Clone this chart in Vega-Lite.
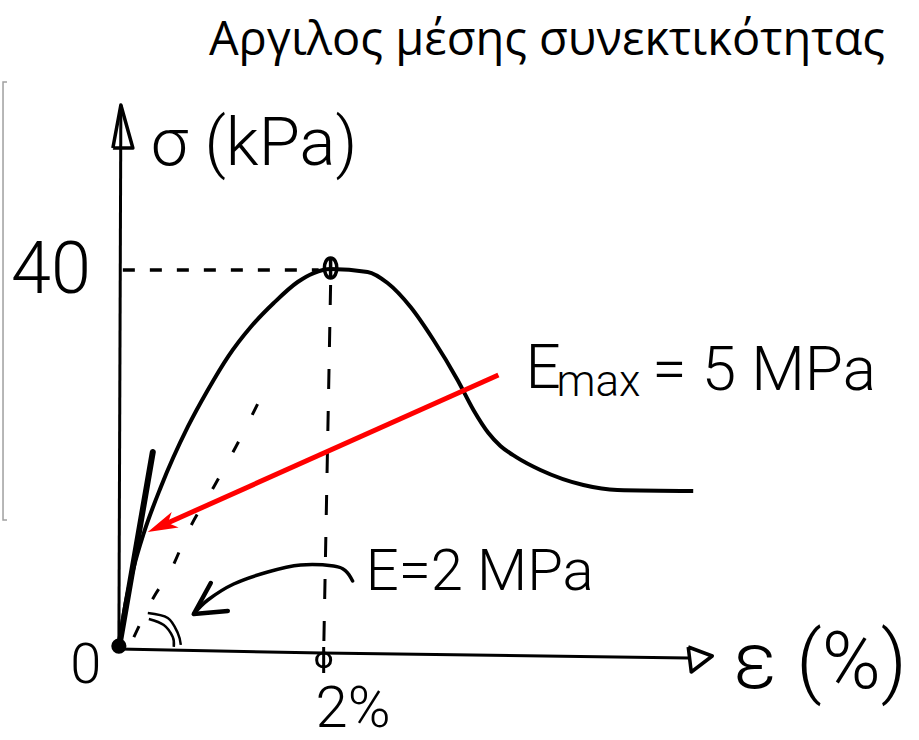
{
  "$schema": "https://vega.github.io/schema/vega-lite/v6.json",
  "width": 919,
  "height": 740,
  "padding": 0,
  "autosize": {"type": "fit", "contains": "padding"},
  "background": "white",
  "config": {"view": {"stroke": null}},
  "datasets": {
    "curve": [
      {"x": 0, "y": 0},
      {"x": 0.049, "y": 3.7},
      {"x": 0.147, "y": 8.57},
      {"x": 0.245, "y": 12.17},
      {"x": 0.412, "y": 17.04},
      {"x": 0.676, "y": 23.39},
      {"x": 0.873, "y": 27.3},
      {"x": 1.069, "y": 30.79},
      {"x": 1.294, "y": 33.97},
      {"x": 1.52, "y": 36.51},
      {"x": 1.755, "y": 38.73},
      {"x": 1.912, "y": 39.68},
      {"x": 2.078, "y": 40.11},
      {"x": 2.441, "y": 39.79},
      {"x": 2.637, "y": 38.62},
      {"x": 2.863, "y": 36.08},
      {"x": 3.088, "y": 32.59},
      {"x": 3.324, "y": 28.36},
      {"x": 3.48, "y": 25.19},
      {"x": 3.627, "y": 22.75},
      {"x": 3.745, "y": 21.38},
      {"x": 3.9, "y": 20.2},
      {"x": 4.137, "y": 18.84},
      {"x": 4.559, "y": 17.25},
      {"x": 4.892, "y": 16.72},
      {"x": 5.637, "y": 16.61}
    ],
    "paths": [
      {"path": "frame", "i": 0, "x": -1.098, "y": 59.89},
      {"path": "frame", "i": 1, "x": -1.137, "y": 59.89},
      {"path": "frame", "i": 2, "x": -1.137, "y": 13.54},
      {"path": "frame", "i": 3, "x": -1.098, "y": 13.54},

      {"path": "yaxis", "i": 0, "x": 0, "y": 0},
      {"path": "yaxis", "i": 1, "x": 0.0196, "y": 57.46},
      {"path": "yarrow", "i": 0, "x": -0.0588, "y": 52.91},
      {"path": "yarrow", "i": 1, "x": 0.0196, "y": 57.46},
      {"path": "yarrow", "i": 2, "x": 0.1373, "y": 52.91},
      {"path": "yarrow", "i": 3, "x": -0.0588, "y": 52.91},

      {"path": "xaxis", "i": 0, "x": 0, "y": -0.106},
      {"path": "xaxis", "i": 1, "x": 2, "y": -0.529},
      {"path": "xaxis", "i": 2, "x": 5.588, "y": -1.058},
      {"path": "xarrow", "i": 0, "x": 5.588, "y": 0.106},
      {"path": "xarrow", "i": 1, "x": 5.824, "y": -0.847},
      {"path": "xarrow", "i": 2, "x": 5.618, "y": -2.54},
      {"path": "xarrow", "i": 3, "x": 5.588, "y": 0.106},

      {"path": "tangent", "i": 0, "x": 0, "y": 0},
      {"path": "tangent", "i": 1, "x": 0.333, "y": 20.74},

      {"path": "hdash", "i": 0, "x": 0.039, "y": 40.0},
      {"path": "hdash", "i": 1, "x": 1.961, "y": 40.0},
      {"path": "vdash", "i": 0, "x": 2.078, "y": 38.41},
      {"path": "vdash", "i": 1, "x": 2.01, "y": -0.42},

      {"path": "secant", "i": 0, "x": 0.147, "y": 1.16},
      {"path": "secant", "i": 1, "x": 0.343, "y": 5.4},
      {"path": "secant", "i": 2, "x": 0.51, "y": 8.25},
      {"path": "secant", "i": 3, "x": 0.686, "y": 12.49},
      {"path": "secant", "i": 4, "x": 0.931, "y": 17.04},
      {"path": "secant", "i": 5, "x": 1.147, "y": 21.27},
      {"path": "secant", "i": 6, "x": 1.392, "y": 26.46},

      {"path": "arcOuter", "i": 0, "x": 0.284, "y": 3.7},
      {"path": "arcOuter", "i": 1, "x": 0.48, "y": 3.17},
      {"path": "arcOuter", "i": 2, "x": 0.578, "y": 1.59},
      {"path": "arcOuter", "i": 3, "x": 0.608, "y": 0.32},
      {"path": "arcInner", "i": 0, "x": 0.294, "y": 3.07},
      {"path": "arcInner", "i": 1, "x": 0.441, "y": 2.43},
      {"path": "arcInner", "i": 2, "x": 0.529, "y": 1.16},
      {"path": "arcInner", "i": 3, "x": 0.539, "y": 0.11},

      {"path": "eArrow", "i": 0, "x": 2.294, "y": 7.09},
      {"path": "eArrow", "i": 1, "x": 2.225, "y": 8.17},
      {"path": "eArrow", "i": 2, "x": 2.108, "y": 8.68},
      {"path": "eArrow", "i": 3, "x": 1.784, "y": 8.78},
      {"path": "eArrow", "i": 4, "x": 1.461, "y": 8.04},
      {"path": "eArrow", "i": 5, "x": 1.127, "y": 6.77},
      {"path": "eArrow", "i": 6, "x": 0.873, "y": 5.08},
      {"path": "eArrow", "i": 7, "x": 0.735, "y": 3.6},
      {"path": "eHead", "i": 0, "x": 0.902, "y": 6.88},
      {"path": "eHead", "i": 1, "x": 0.735, "y": 3.6},
      {"path": "eHead", "i": 2, "x": 1.069, "y": 3.92},

      {"path": "red", "i": 0, "x": 3.725, "y": 28.89},
      {"path": "red", "i": 1, "x": 0.412, "y": 12.91}
    ],
    "markers": [
      {"key": "origin", "x": 0, "y": 0.2},
      {"key": "peak", "x": 2.078, "y": 40.21},
      {"key": "xtick", "x": 2.01, "y": -1.27},
      {"key": "redTip", "x": 0.284, "y": 12.28}
    ],
    "labels": [
      {"key": "title", "text": "Αργιλος μέσης συνεκτικότητας", "x": 4.201, "y": 62.7},
      {"key": "sigma", "text": "σ (kPa)", "x": 0.314, "y": 51.11},
      {"key": "forty", "text": "40", "x": -0.275, "y": 37.57},
      {"key": "zero", "text": "0", "x": -0.324, "y": -3.7},
      {"key": "two", "text": "2%", "x": 1.931, "y": -8.36},
      {"key": "eps", "text": "ε (%)", "x": 6.029, "y": -4.23},
      {"key": "emaxE", "text": "E", "x": 3.99, "y": 27.51},
      {"key": "emaxSub", "text": "max", "x": 4.294, "y": 26.67},
      {"key": "emaxVal", "text": "= 5 MPa", "x": 5.235, "y": 27.3},
      {"key": "e2", "text": "E=2 MPa", "x": 2.422, "y": 6.14}
    ]
  },
  "encoding": {
    "x": {"field": "x", "type": "quantitative", "axis": null,
          "scale": {"domain": [-1.15686, 7.85294], "nice": false, "zero": false}},
    "y": {"field": "y", "type": "quantitative", "axis": null,
          "scale": {"domain": [-9.73545, 68.57143], "nice": false, "zero": false}}
  },
  "layer": [
    {
      "data": {"name": "paths"},
      "transform": [{"filter": "datum.path === 'frame'"}],
      "mark": {"type": "line", "color": "#a0a0a0", "strokeWidth": 1.5},
      "encoding": {"order": {"field": "i", "type": "quantitative"}}
    },
    {
      "data": {"name": "paths"},
      "transform": [{"filter": "datum.path === 'yaxis' || datum.path === 'xaxis'"}],
      "mark": {"type": "line", "color": "black", "strokeWidth": 3},
      "encoding": {"detail": {"field": "path"}, "order": {"field": "i", "type": "quantitative"}}
    },
    {
      "data": {"name": "paths"},
      "transform": [{"filter": "datum.path === 'yarrow' || datum.path === 'xarrow'"}],
      "mark": {"type": "line", "color": "black", "strokeWidth": 3.5, "strokeJoin": "round"},
      "encoding": {"detail": {"field": "path"}, "order": {"field": "i", "type": "quantitative"}}
    },
    {
      "data": {"name": "paths"},
      "transform": [{"filter": "datum.path === 'hdash'"}],
      "mark": {"type": "line", "color": "black", "strokeWidth": 3.5, "strokeDash": [12, 15]},
      "encoding": {"order": {"field": "i", "type": "quantitative"}}
    },
    {
      "data": {"name": "paths"},
      "transform": [{"filter": "datum.path === 'vdash'"}],
      "mark": {"type": "line", "color": "black", "strokeWidth": 3, "strokeDash": [20, 22]},
      "encoding": {"order": {"field": "i", "type": "quantitative"}}
    },
    {
      "data": {"name": "paths"},
      "transform": [{"filter": "datum.path === 'secant'"}],
      "mark": {"type": "line", "color": "black", "strokeWidth": 3, "strokeDash": [12, 30], "interpolate": "monotone"},
      "encoding": {"order": {"field": "i", "type": "quantitative"}}
    },
    {
      "data": {"name": "paths"},
      "transform": [{"filter": "datum.path === 'arcOuter' || datum.path === 'arcInner'"}],
      "mark": {"type": "line", "color": "black", "strokeWidth": 2.5, "interpolate": "cardinal"},
      "encoding": {"detail": {"field": "path"}, "order": {"field": "i", "type": "quantitative"}}
    },
    {
      "data": {"name": "curve"},
      "mark": {"type": "line", "color": "black", "strokeWidth": 4, "interpolate": "monotone"}
    },
    {
      "data": {"name": "paths"},
      "transform": [{"filter": "datum.path === 'tangent'"}],
      "mark": {"type": "line", "color": "black", "strokeWidth": 6, "strokeCap": "round"},
      "encoding": {"order": {"field": "i", "type": "quantitative"}}
    },
    {
      "data": {"name": "paths"},
      "transform": [{"filter": "datum.path === 'eArrow'"}],
      "mark": {"type": "line", "color": "black", "strokeWidth": 3.5, "interpolate": "cardinal", "strokeCap": "round"},
      "encoding": {"order": {"field": "i", "type": "quantitative"}}
    },
    {
      "data": {"name": "paths"},
      "transform": [{"filter": "datum.path === 'eHead'"}],
      "mark": {"type": "line", "color": "black", "strokeWidth": 4.5, "strokeCap": "round", "strokeJoin": "round"},
      "encoding": {"order": {"field": "i", "type": "quantitative"}}
    },
    {
      "data": {"name": "paths"},
      "transform": [{"filter": "datum.path === 'red'"}],
      "mark": {"type": "line", "color": "#ff0000", "strokeWidth": 5},
      "encoding": {"order": {"field": "i", "type": "quantitative"}}
    },
    {
      "data": {"name": "markers"},
      "transform": [{"filter": "datum.key === 'redTip'"}],
      "mark": {"type": "point", "filled": true, "color": "#ff0000", "opacity": 1,
               "shape": "M0,0 L-3,-0.85 L-2.2,0 L-3,0.85 Z", "size": 400, "angle": 155.9}
    },
    {
      "data": {"name": "markers"},
      "transform": [{"filter": "datum.key === 'origin'"}],
      "mark": {"type": "point", "filled": true, "color": "black", "opacity": 1, "shape": "circle", "size": 230}
    },
    {
      "data": {"name": "markers"},
      "transform": [{"filter": "datum.key === 'peak'"}],
      "mark": {"type": "point", "filled": false, "color": "black", "opacity": 1, "strokeWidth": 3.5,
               "shape": "M0,-1 L0,1 M0,-0.9 C0.75,-0.9 0.75,0.9 0,0.9 C-0.75,0.9 -0.75,-0.9 0,-0.9 Z", "size": 484}
    },
    {
      "data": {"name": "markers"},
      "transform": [{"filter": "datum.key === 'xtick'"}],
      "mark": {"type": "point", "filled": false, "color": "black", "opacity": 1, "strokeWidth": 3,
               "shape": "M0,-1.3 L0,1.3 M-0.7,0 C-0.7,-0.93 0.7,-0.93 0.7,0 C0.7,0.93 -0.7,0.93 -0.7,0 Z", "size": 400}
    },
    {
      "data": {"name": "labels"},
      "transform": [{"filter": "datum.key === 'title'"}],
      "mark": {"type": "text", "font": "Open Sans", "fontSize": 47, "align": "center", "baseline": "alphabetic", "color": "black"},
      "encoding": {"text": {"field": "text"}}
    },
    {
      "data": {"name": "labels"},
      "transform": [{"filter": "datum.key === 'sigma'"}],
      "mark": {"type": "text", "font": "Roboto", "fontWeight": 300, "fontSize": 67, "align": "left", "baseline": "alphabetic", "color": "black"},
      "encoding": {"text": {"field": "text"}}
    },
    {
      "data": {"name": "labels"},
      "transform": [{"filter": "datum.key === 'forty'"}],
      "mark": {"type": "text", "font": "Roboto", "fontWeight": 300, "fontSize": 72, "align": "right", "baseline": "alphabetic", "color": "black"},
      "encoding": {"text": {"field": "text"}}
    },
    {
      "data": {"name": "labels"},
      "transform": [{"filter": "datum.key === 'zero'"}],
      "mark": {"type": "text", "font": "Roboto", "fontWeight": 300, "fontSize": 56, "align": "center", "baseline": "alphabetic", "color": "black"},
      "encoding": {"text": {"field": "text"}}
    },
    {
      "data": {"name": "labels"},
      "transform": [{"filter": "datum.key === 'two'"}],
      "mark": {"type": "text", "font": "Roboto", "fontWeight": 300, "fontSize": 58, "align": "left", "baseline": "alphabetic", "color": "black"},
      "encoding": {"text": {"field": "text"}}
    },
    {
      "data": {"name": "labels"},
      "transform": [{"filter": "datum.key === 'eps'"}],
      "mark": {"type": "text", "font": "Roboto", "fontWeight": 300, "fontSize": 80, "align": "left", "baseline": "alphabetic", "color": "black"},
      "encoding": {"text": {"field": "text"}}
    },
    {
      "data": {"name": "labels"},
      "transform": [{"filter": "datum.key === 'emaxE' || datum.key === 'emaxVal'"}],
      "mark": {"type": "text", "font": "Roboto", "fontWeight": 300, "fontSize": 62, "align": "left", "baseline": "alphabetic", "color": "black"},
      "encoding": {"text": {"field": "text"}}
    },
    {
      "data": {"name": "labels"},
      "transform": [{"filter": "datum.key === 'emaxSub'"}],
      "mark": {"type": "text", "font": "Roboto", "fontWeight": 300, "fontSize": 44, "align": "left", "baseline": "alphabetic", "color": "black"},
      "encoding": {"text": {"field": "text"}}
    },
    {
      "data": {"name": "labels"},
      "transform": [{"filter": "datum.key === 'e2'"}],
      "mark": {"type": "text", "font": "Roboto", "fontWeight": 300, "fontSize": 58, "align": "left", "baseline": "alphabetic", "color": "black"},
      "encoding": {"text": {"field": "text"}}
    }
  ]
}
